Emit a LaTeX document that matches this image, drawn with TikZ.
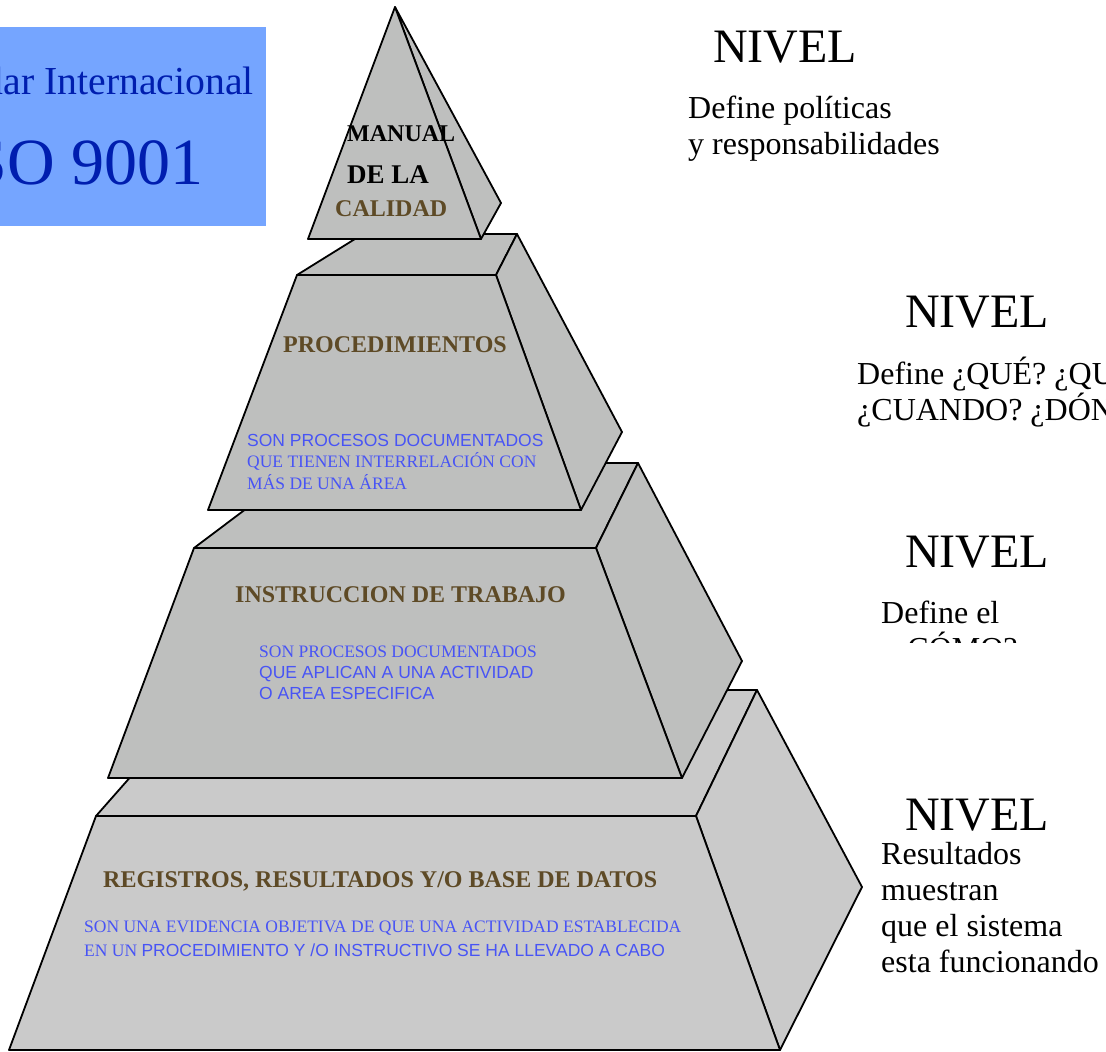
\documentclass[tikz,border=0pt]{standalone}
\usepackage{fontspec}
\setmainfont{Liberation Serif}
\setsansfont{Liberation Sans}
\definecolor{isobox}{RGB}{117,165,255}
\definecolor{isotext}{RGB}{0,30,175}
\definecolor{caraA}{RGB}{190,191,190}
\definecolor{caraB}{RGB}{202,202,202}
\definecolor{ocre}{RGB}{94,74,38}
\definecolor{azul}{RGB}{72,84,245}
\tikzset{
  cara/.style={draw=black, line width=1.8pt, line join=round},
  titulo/.style={font=\fontsize{24}{28}\selectfont\bfseries, text=ocre, anchor=base west, inner sep=0pt},
  nota/.style={font=\fontsize{17.5}{21}\selectfont, text=azul, anchor=base west, inner sep=0pt},
  nivel/.style={font=\fontsize{48}{54}\selectfont, anchor=base west, inner sep=0pt},
  desc/.style={font=\fontsize{32}{36}\selectfont, anchor=base west, inner sep=0pt}
}
\begin{document}
\begin{tikzpicture}[x=1pt,y=-1pt]
			\useasboundingbox (0,0) rectangle (1106,1052);
			% draw blue box
			\fill[isobox] (0,27) rectangle (266,226);
			\begin{scope}
			\clip (0,27) rectangle (266,226);
			\node[anchor=base east, inner sep=0pt, text=isotext, font=\fontsize{39.7}{44}\selectfont] (norma) at (254,94) {Estándar Internacional};
			\node[anchor=base east, inner sep=0pt, text=isotext, font=\fontsize{66}{70}\selectfont] (iso) at (204,184) {ISO 9001};
			\end{scope}
			
			% draw layer 4
			\filldraw[cara, fill=caraB] (96,816) -- (207,690) -- (757,690) -- (696,816) -- cycle;
			\filldraw[cara, fill=caraB] (696,816) -- (757,690) -- (862,887) -- (780,1050) -- cycle;
			\filldraw[cara, fill=caraB] (96,816) -- (696,816) -- (780,1050) -- (9,1050) -- cycle;
			% draw layer 3
			\filldraw[cara, fill=caraA] (194,548) -- (307,463) -- (638,463) -- (596,548) -- cycle;
			\filldraw[cara, fill=caraA] (596,548) -- (638,463) -- (742,661) -- (682,778) -- cycle;
			\filldraw[cara, fill=caraA] (194,548) -- (596,548) -- (682,778) -- (108,778) -- cycle;
			% draw layer 2
			\filldraw[cara, fill=caraA] (297,275) -- (363,234) -- (517,234) -- (496,275) -- cycle;
			\filldraw[cara, fill=caraA] (496,275) -- (517,234) -- (622,432) -- (581,510) -- cycle;
			\filldraw[cara, fill=caraA] (297,275) -- (496,275) -- (581,510) -- (208,510) -- cycle;
			% draw top
			\filldraw[cara, fill=caraA] (395,7) -- (501,203) -- (481,239) -- cycle;
			\filldraw[cara, fill=caraA] (395,7) -- (481,239) -- (308,239) -- cycle;
			
			% draw nodes
			\node[titulo, text=black] (manual) at (347,141) {MANUAL};
			\node[titulo, text=black, font=\fontsize{27}{30}\selectfont\bfseries] (dela) at (347,183) {DE LA};
			\node[titulo] (calidad) at (335,216) {CALIDAD};
			
			\node[titulo] (proc) at (283,352) {PROCEDIMIENTOS};
			\node[nota, font=\sffamily\fontsize{17.5}{21}\selectfont] (proca) at (247,446) {SON PROCESOS DOCUMENTADOS};
			\node[nota] (procb) at (247,467) {QUE TIENEN INTERRELACIÓN CON};
			\node[nota] (procc) at (247,489) {MÁS DE UNA ÁREA};
			
			\node[titulo] (instr) at (235,602) {INSTRUCCION DE TRABAJO};
			\node[nota] (instra) at (259,657) {SON PROCESOS DOCUMENTADOS};
			\node[nota, font=\sffamily\fontsize{17.5}{21}\selectfont] (instrb) at (259,678) {QUE APLICAN A UNA ACTIVIDAD};
			\node[nota, font=\sffamily\fontsize{17.5}{21}\selectfont] (instrc) at (259,699) {O AREA ESPECIFICA};
			
			\node[titulo] (reg) at (103,887) {REGISTROS, RESULTADOS Y/O BASE DE DATOS};
			\node[nota] (rega) at (84,932) {SON UNA EVIDENCIA OBJETIVA DE QUE UNA ACTIVIDAD ESTABLECIDA};
			\node[nota] (regb) at (84,956) {EN UN {\sffamily PROCEDIMIENTO Y /O INSTRUCTIVO SE HA LLEVADO A CABO}};
			
			% draw levels
			\node[nivel] (niv1) at (713,62) {NIVEL};
			\node[desc] (d1a) at (688,118) {Define políticas};
			\node[desc] (d1b) at (688,154) {y responsabilidades};
			
			\node[nivel] (niv2) at (905,327) {NIVEL};
			\node[desc] (d2a) at (857,384) {Define ¿QUÉ? ¿QUIÉN?};
			\node[desc] (d2b) at (857,420) {¿CUANDO? ¿DÓNDE?};
			
			\node[nivel] (niv3) at (905,567) {NIVEL};
			\node[desc] (d3a) at (881,623) {Define el};
			\begin{scope}
			\clip (860,600) rectangle (1106,642);
			\node[desc] (d3b) at (893,659) {¿CÓMO?};
			\end{scope}
			
			\node[nivel] (niv4) at (905,830) {NIVEL};
			\node[desc] (d4a) at (881,864) {Resultados};
			\node[desc] (d4b) at (881,900) {muestran};
			\node[desc] (d4c) at (881,936) {que el sistema};
			\node[desc] (d4d) at (881,972) {esta funcionando};
		\end{tikzpicture}
\end{document}
